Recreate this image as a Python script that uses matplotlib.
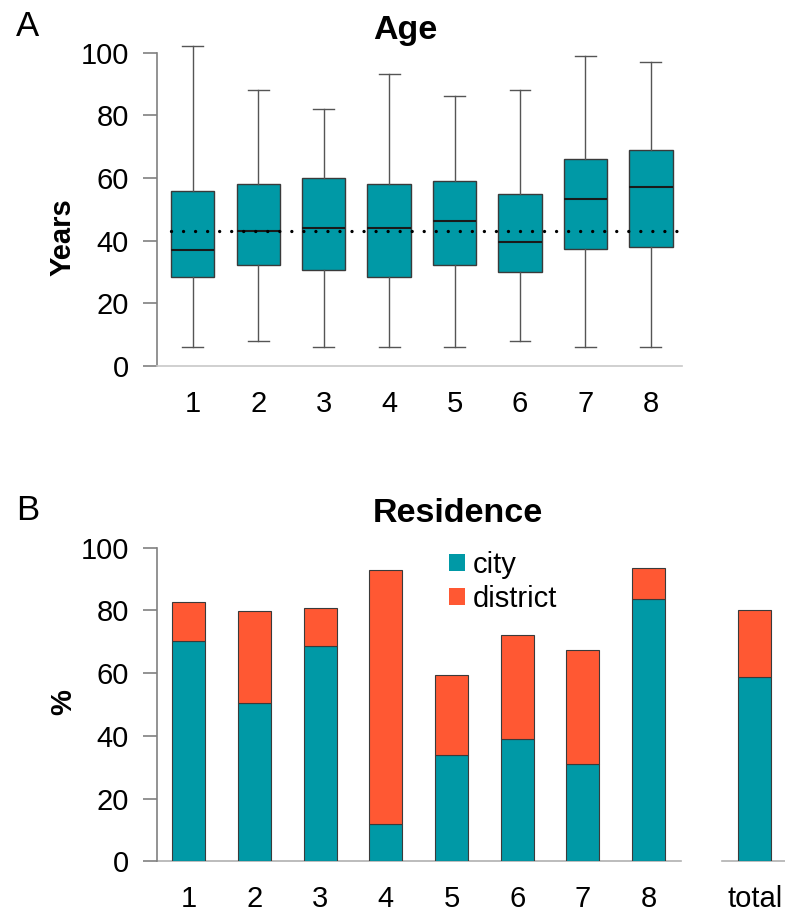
import matplotlib
matplotlib.use("Agg")
import matplotlib.pyplot as plt
from matplotlib.patches import Patch

plt.rcParams['font.family'] = ['Liberation Sans', 'DejaVu Sans']

# Age per group (box-plot summaries, years)
groups = ['1', '2', '3', '4', '5', '6', '7', '8']
age_low = [6.1, 8.0, 6.1, 6.1, 6.1, 8.0, 6.1, 6.1]
age_q1 = [28.3, 32.1, 30.5, 28.3, 32.1, 30.1, 37.2, 38.1]
age_med = [37.1, 43.2, 44.1, 44.1, 46.2, 39.7, 53.2, 57.0]
age_q3 = [56.0, 58.1, 60.0, 58.1, 58.9, 55.0, 66.0, 68.9]
age_high = [102.2, 88.1, 82.1, 93.1, 86.2, 88.1, 99.0, 97.0]
age_overall = 43.2

# Residence shares (%) per group plus total
res_labels = ['1', '2', '3', '4', '5', '6', '7', '8', 'total']
city = [70.2, 50.4, 68.6, 11.8, 34.0, 38.9, 31.1, 83.5, 58.7]
city_district = [82.6, 79.9, 80.9, 92.8, 59.5, 72.3, 67.5, 93.5, 80.1]
district = [t - c for t, c in zip(city_district, city)]

teal = '#0099a6'
orange = '#ff5833'
W, H = 785, 913

fig = plt.figure(figsize=(W / 100, H / 100), dpi=100)

def px_axes(x0, x1, ytop, ybot):
    return fig.add_axes([x0 / W, 1 - ybot / H, (x1 - x0) / W, (ybot - ytop) / H])

# ---- panel A: age box plots ----
axA = px_axes(156.7, 681.7, 366 - 104 * 3.133, 366)
stats = [dict(whislo=lo, q1=q1, med=m, q3=q3, whishi=hi, fliers=[])
         for lo, q1, m, q3, hi in zip(age_low, age_q1, age_med, age_q3, age_high)]
pos = list(range(1, len(groups) + 1))
axA.bxp(stats, positions=pos, widths=0.66, patch_artist=True, showfliers=False,
        capwidths=0.32,
        boxprops=dict(facecolor=teal, edgecolor='#3a3a3a', linewidth=1.0),
        medianprops=dict(color='#1a1a1a', linewidth=1.5),
        whiskerprops=dict(color='#555555', linewidth=1.0),
        capprops=dict(color='#555555', linewidth=1.0))
axA.hlines(age_overall, 0.67, 8.52, colors='black', linewidth=2.4,
           linestyles=(0, (0.01, 3.6)), capstyle='round', zorder=5)
axA.set_xlim(0.45, 8.47)
axA.set_ylim(0, 104)
axA.set_yticks([0, 20, 40, 60, 80, 100])
axA.set_xticks(pos)
axA.set_xticklabels(groups)
axA.spines['left'].set_bounds(0, 100)

# ---- panel B: residence stacked bars ----
xB = [1, 2, 3, 4, 5, 6, 7, 8, 9.62]
axB = px_axes(156.7, 785, 547.7, 861.3)
axB.bar(xB, city, width=0.5, color=teal, edgecolor='#3a3a3a', linewidth=0.8, label='city')
axB.bar(xB, district, bottom=city, width=0.5, color=orange, edgecolor='#3a3a3a',
        linewidth=0.8, label='district')
axB.set_xlim(0.51, 10.08)
axB.set_ylim(0, 100)
axB.set_yticks([0, 20, 40, 60, 80, 100])
axB.set_xticks(xB)
axB.set_xticklabels(res_labels)
axB.spines['bottom'].set_visible(False)
for a, b in [(0.51, 8.5), (9.12, 10.08)]:
    axB.plot([a, b], [0, 0], color='#b0b0b0', linewidth=1.2, clip_on=False, zorder=0)

handles = [Patch(facecolor=teal, edgecolor='none', label='city'),
           Patch(facecolor=orange, edgecolor='none', label='district')]
axB.legend(handles=handles, loc='upper left', bbox_to_anchor=(449 / W, 1 - 551 / H),
           bbox_transform=fig.transFigure, frameon=False, fontsize=21,
           handlelength=0.55, handleheight=0.55, handletextpad=0.25,
           labelspacing=0.2, borderpad=0, borderaxespad=0)

for ax in (axA, axB):
    for s in ('top', 'right'):
        ax.spines[s].set_visible(False)
    ax.spines['left'].set_color('#808080')
    ax.spines['left'].set_linewidth(1.2)
    ax.spines['bottom'].set_color('#c8c8c8')
    ax.spines['bottom'].set_linewidth(1.2)
    ax.tick_params(axis='y', length=10, width=1.2, color='#808080', labelsize=21, pad=10)
    ax.tick_params(axis='x', length=0, labelsize=21, pad=17)

fig.text(405 / W, 1 - 30 / H, 'Age', ha='center', va='center', fontsize=24.5, fontweight='bold')
fig.text(458 / W, 1 - 513 / H, 'Residence', ha='center', va='center', fontsize=24.5,
         fontweight='bold')
fig.text(63 / W, 1 - 237 / H, 'Years', ha='center', va='center', rotation=90,
         fontsize=21, fontweight='bold')
fig.text(63 / W, 1 - 702 / H, '%', ha='center', va='center', rotation=90,
         fontsize=21, fontweight='bold')
fig.text(28 / W, 1 - 27 / H, 'A', ha='center', va='center', fontsize=25)
fig.text(28 / W, 1 - 510 / H, 'B', ha='center', va='center', fontsize=25)

fig.savefig('out.png', dpi=100)
